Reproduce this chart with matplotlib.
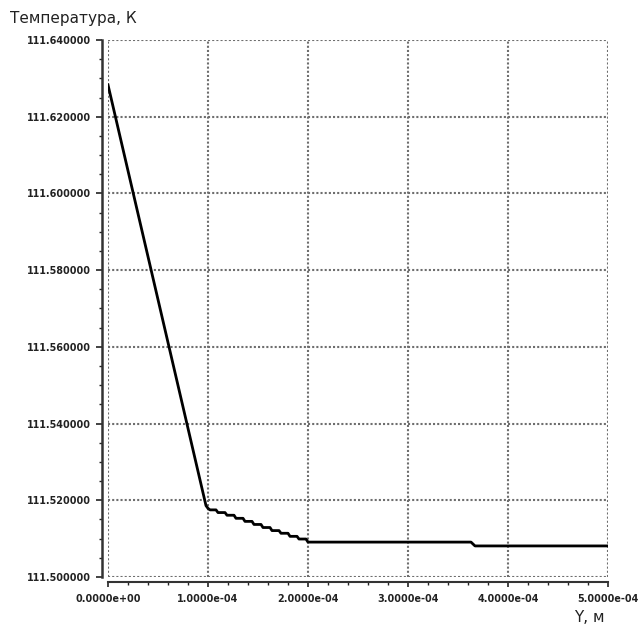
import matplotlib
matplotlib.use("Agg")
import matplotlib.pyplot as plt
from matplotlib.ticker import MultipleLocator, FuncFormatter

# Data (x in metres, temperature in K)
y_pos = [0.0, 0.98e-4, 1.00e-4,
         1.02e-4, 1.08e-4, 1.10e-4, 1.17e-4, 1.19e-4, 1.26e-4, 1.28e-4, 1.35e-4,
         1.37e-4, 1.44e-4, 1.46e-4, 1.53e-4, 1.55e-4, 1.62e-4, 1.64e-4, 1.71e-4,
         1.73e-4, 1.80e-4, 1.82e-4, 1.89e-4, 1.91e-4, 1.98e-4, 2.00e-4,
         3.63e-4, 3.67e-4, 5.00e-4]
temperature = [111.6283, 111.5186, 111.5179,
               111.5175, 111.5175, 111.5168, 111.5168, 111.5161, 111.5161, 111.5153, 111.5153,
               111.5145, 111.5145, 111.5137, 111.5137, 111.5129, 111.5129, 111.5121, 111.5121,
               111.5114, 111.5114, 111.5106, 111.5106, 111.5099, 111.5099, 111.5091,
               111.5091, 111.5081, 111.5081]

x_ticks = [0.0, 1e-4, 2e-4, 3e-4, 4e-4, 5e-4]
y_ticks = [111.50, 111.52, 111.54, 111.56, 111.58, 111.60, 111.62, 111.64]
y_label = "Температура, К"
x_label = "Y, м"

fig = plt.figure(figsize=(6.38, 6.27), dpi=100)
ax = fig.add_axes([108/638, 1 - 577/627, 500/638, 537/627])

ax.plot(y_pos, temperature, color="black", linewidth=2.0, solid_joinstyle="round")

ax.set_xlim(0, 5e-4)
ax.set_ylim(111.50, 111.64)
ax.set_xticks(x_ticks)
ax.set_yticks(y_ticks)
ax.xaxis.set_minor_locator(MultipleLocator(0.2e-4))
ax.yaxis.set_minor_locator(MultipleLocator(0.005))

ax.xaxis.set_major_formatter(FuncFormatter(lambda v, p: f"{v:.4e}"))
ax.yaxis.set_major_formatter(FuncFormatter(lambda v, p: f"{v:.6f}"))

ax.grid(True, which="major", color="#6e6e6e", linestyle=(0, (1, 1)), linewidth=1.5)
ax.set_axisbelow(True)

for s in ("top", "right"):
    ax.spines[s].set_visible(False)
ax.spines["left"].set_position(("outward", 4.3))
ax.spines["bottom"].set_position(("outward", 3.6))
ax.spines["left"].set_linewidth(1.8)
ax.spines["bottom"].set_linewidth(1.5)
ax.spines["left"].set_color("#333333")
ax.spines["bottom"].set_color("#333333")

ax.tick_params(axis="y", which="major", direction="out", length=4.3, width=1.2, pad=3.5,
               labelsize=6.9, colors="#222222")
ax.tick_params(axis="y", which="minor", direction="out", length=2.5, width=1.0, colors="#222222")
ax.tick_params(axis="x", which="major", direction="out", length=3.5, width=1.2, pad=5.5,
               labelsize=6.9, colors="#222222")
ax.tick_params(axis="x", which="minor", direction="out", length=2.5, width=1.0, colors="#222222")
for lbl in ax.get_xticklabels() + ax.get_yticklabels():
    lbl.set_fontweight("bold")

fig.text(10/638, 1 - 18/627, y_label, fontsize=11, va="center", ha="left", color="#222222")
fig.text(605/638, 1 - 618/627, x_label, fontsize=11, va="center", ha="right", color="#222222")

fig.savefig("out.png", dpi=100)
